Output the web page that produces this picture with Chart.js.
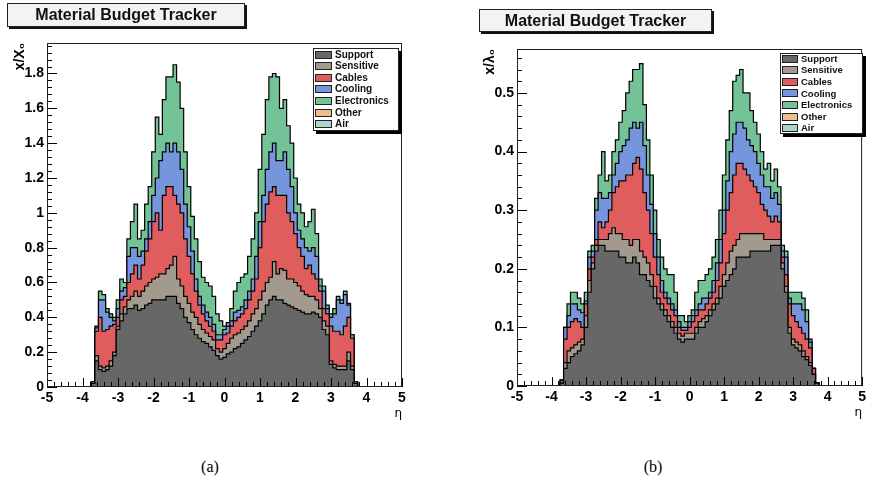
<!DOCTYPE html>
<html><head><meta charset="utf-8">
<script src="https://cdn.jsdelivr.net/npm/chart.js@4/dist/chart.umd.min.js"></script>
<style>
body{margin:0;background:#fff;width:869px;height:485px;overflow:hidden;position:relative;font-family:"Liberation Sans",Arial,sans-serif}
canvas{position:absolute;top:0}
.title{position:absolute;background:#f3f3f3;border:1px solid #222;box-shadow:2px 2px 0 #111;font-weight:bold;font-size:16px;text-align:center;box-sizing:border-box;color:#111}
.legend{position:absolute;background:#fff;border:1px solid #222;box-shadow:3px 3px 0 #000;box-sizing:border-box}
.legend .sw{position:absolute;box-sizing:border-box;border:1px solid #222}
.legend .tx{position:absolute;font-weight:bold;color:#111;white-space:nowrap}
.cap{position:absolute;font-family:"Liberation Serif",serif;font-size:16px;width:40px;text-align:center}
</style></head>
<body>
<canvas id="ca" width="435" height="430" style="left:0"></canvas>
<canvas id="cb" width="429" height="430" style="left:440px"></canvas>
<div class="title" style="left:7px;top:3px;width:238px;height:24px;line-height:22px">Material Budget Tracker</div>
<div class="title" style="left:479px;top:9px;width:233px;height:23px;line-height:21px">Material Budget Tracker</div>
<div class="legend" id="lga" style="left:313px;top:48px;width:86px;height:83px"></div>
<div class="legend" id="lgb" style="left:780px;top:53px;width:83px;height:81px"></div>
<div class="cap" style="left:190px;top:458px">(a)</div>
<div class="cap" style="left:633px;top:458px">(b)</div>
<script>
// ---- data ----
const etaCenters = [-3.7,-3.6,-3.5,-3.4,-3.3,-3.2,-3.1,-3.0,-2.9,-2.8,-2.7,-2.6,-2.5,-2.4,-2.3,-2.2,-2.1,-2.0,-1.9,-1.8,-1.7,-1.6,-1.5,-1.4,-1.3,-1.2,-1.1,-1.0,-0.9,-0.8,-0.7,-0.6,-0.5,-0.4,-0.3,-0.2,-0.1,0.0,0.1,0.2,0.3,0.4,0.5,0.6,0.7,0.8,0.9,1.0,1.1,1.2,1.3,1.4,1.5,1.6,1.7,1.8,1.9,2.0,2.1,2.2,2.3,2.4,2.5,2.6,2.7,2.8,2.9,3.0,3.1,3.2,3.3,3.4,3.5,3.6,3.7];
const etaRange = [-5, -3.8, 3.8, 5];

const names = ['Support','Sensitive','Cables','Cooling','Electronics','Other','Air'];
const colors = ['#676767','#a39a8e','#e05d5d','#7595dc','#73c397','#efbd85','#a9d6c6'];

// panel (a): x/X0
const supportA = [0.02,0.15,0.10,0.09,0.10,0.12,0.18,0.33,0.38,0.42,0.45,0.45,0.47,0.44,0.45,0.47,0.48,0.50,0.50,0.50,0.50,0.52,0.52,0.52,0.48,0.45,0.40,0.37,0.33,0.30,0.28,0.26,0.25,0.23,0.21,0.18,0.16,0.17,0.19,0.20,0.22,0.23,0.25,0.27,0.29,0.32,0.35,0.38,0.42,0.47,0.50,0.52,0.50,0.50,0.48,0.47,0.46,0.45,0.44,0.43,0.42,0.42,0.43,0.42,0.40,0.33,0.30,0.13,0.11,0.10,0.10,0.10,0.15,0.10,0.02];
const sensitiveA = [0,0.03,0.02,0.02,0.02,0.03,0.02,0.02,0.04,0.04,0.05,0.07,0.08,0.08,0.10,0.11,0.12,0.12,0.13,0.15,0.15,0.16,0.18,0.23,0.14,0.13,0.12,0.11,0.10,0.10,0.08,0.07,0.06,0.06,0.06,0.04,0.04,0.05,0.06,0.08,0.08,0.08,0.08,0.08,0.09,0.10,0.10,0.12,0.13,0.13,0.13,0.20,0.15,0.18,0.19,0.15,0.16,0.15,0.14,0.12,0.11,0.10,0.09,0.08,0.05,0.05,0.05,0.02,0.02,0.02,0.02,0.02,0.05,0.02,0];
const cablesA = [0.01,0.14,0.28,0.21,0.21,0.20,0.16,0.05,0.08,0.06,0.10,0.13,0.15,0.10,0.15,0.20,0.25,0.33,0.37,0.25,0.45,0.47,0.45,0.35,0.43,0.42,0.33,0.27,0.22,0.15,0.11,0.09,0.07,0.06,0.05,0.05,0.07,0.08,0.06,0.07,0.08,0.09,0.09,0.10,0.12,0.13,0.17,0.30,0.40,0.45,0.49,0.43,0.45,0.42,0.43,0.38,0.33,0.28,0.22,0.20,0.15,0.18,0.13,0.12,0.10,0.07,0.07,0.20,0.19,0.20,0.18,0.23,0.20,0.16,0.01];
const coolingA = [0,0.02,0.10,0.18,0.10,0.05,0.02,0.05,0.05,0.05,0.15,0.15,0.10,0.13,0.08,0.07,0.10,0.15,0.20,0.40,0.25,0.25,0.20,0.30,0.30,0.25,0.20,0.17,0.13,0.07,0.05,0.05,0.05,0.05,0.04,0.03,0.03,0.03,0.04,0.03,0.05,0.04,0.04,0.05,0.05,0.07,0.13,0.15,0.15,0.20,0.23,0.25,0.20,0.20,0.25,0.25,0.20,0.12,0.10,0.10,0.12,0.08,0.15,0.13,0.03,0.10,0.03,0.05,0.10,0.18,0.18,0.18,0.07,0.02,0];
const electronicsA = [0,0.01,0.05,0.03,0.02,0.02,0.02,0.05,0.07,0.03,0.10,0.15,0.25,0.10,0.12,0.20,0.20,0.25,0.35,0.15,0.30,0.38,0.43,0.45,0.40,0.35,0.30,0.23,0.20,0.23,0.20,0.16,0.17,0.18,0.16,0.12,0.08,0.02,0.02,0.07,0.12,0.16,0.17,0.15,0.20,0.23,0.25,0.30,0.35,0.40,0.43,0.40,0.48,0.30,0.30,0.25,0.25,0.20,0.15,0.15,0.12,0.17,0.22,0.13,0.04,0.03,0.02,0.02,0.03,0.02,0.02,0.02,0.01,0,0];

// panel (b): x/lambda0
const supportB = [0.005,0.03,0.04,0.05,0.055,0.06,0.07,0.10,0.16,0.20,0.23,0.24,0.24,0.23,0.23,0.23,0.23,0.22,0.22,0.21,0.21,0.22,0.21,0.19,0.19,0.18,0.17,0.15,0.14,0.13,0.12,0.11,0.10,0.09,0.08,0.075,0.08,0.08,0.08,0.09,0.10,0.10,0.11,0.12,0.13,0.14,0.15,0.17,0.18,0.19,0.20,0.22,0.22,0.22,0.22,0.23,0.23,0.23,0.23,0.23,0.23,0.24,0.24,0.24,0.20,0.16,0.09,0.07,0.065,0.06,0.05,0.045,0.035,0.02,0.005];
const sensitiveB = [0,0.01,0.02,0.015,0.015,0.015,0.01,0.02,0.02,0.01,0.01,0.01,0.01,0.02,0.03,0.04,0.03,0.04,0.03,0.04,0.03,0.03,0.04,0.04,0.03,0.03,0.02,0.02,0.01,0.01,0.01,0.01,0.01,0.01,0.01,0.01,0.01,0.01,0.01,0.01,0.01,0.015,0.01,0.01,0.01,0.01,0.02,0.02,0.03,0.04,0.04,0.03,0.04,0.04,0.04,0.03,0.03,0.03,0.03,0.02,0.02,0.01,0.01,0.01,0.01,0.01,0.01,0.01,0.01,0.01,0.01,0.005,0.005,0,0];
const cablesB = [0.005,0.04,0.04,0.045,0.045,0.035,0.02,0.02,0.02,0.01,0.01,0.03,0.02,0.03,0.04,0.06,0.08,0.09,0.10,0.11,0.12,0.13,0.14,0.14,0.11,0.09,0.07,0.05,0.04,0.02,0.02,0.02,0.02,0.02,0.01,0.01,0.005,0.01,0.02,0.02,0.02,0.015,0.02,0.02,0.02,0.03,0.04,0.07,0.09,0.10,0.12,0.13,0.12,0.11,0.10,0.09,0.08,0.07,0.05,0.05,0.04,0.03,0.04,0.03,0.01,0.02,0.04,0.04,0.035,0.03,0.03,0.03,0.025,0.01,0];
const coolingB = [0,0.02,0.02,0.03,0.025,0.02,0.025,0.005,0.02,0.01,0.05,0.05,0.05,0.04,0.03,0.03,0.04,0.05,0.06,0.06,0.08,0.07,0.05,0.08,0.08,0.06,0.05,0.04,0.03,0.02,0.01,0.01,0.01,0.01,0.01,0.005,0.005,0.01,0.01,0.01,0.01,0.02,0.01,0.01,0.02,0.03,0.04,0.04,0.05,0.07,0.07,0.07,0.07,0.07,0.06,0.06,0.06,0.05,0.05,0.04,0.05,0.04,0.04,0.03,0.01,0.03,0.01,0.02,0.03,0.04,0.04,0.03,0.01,0,0];
const electronicsB = [0,0,0.02,0.02,0.02,0.02,0.015,0.015,0.01,0.01,0.02,0.03,0.08,0.03,0.03,0.04,0.04,0.05,0.06,0.08,0.08,0.09,0.10,0.10,0.07,0.06,0.05,0.04,0.03,0.04,0.04,0.04,0.05,0.03,0.01,0.02,0.01,0.01,0.01,0.03,0.04,0.03,0.04,0.04,0.04,0.04,0.05,0.06,0.07,0.07,0.09,0.08,0.09,0.06,0.08,0.06,0.05,0.05,0.04,0.03,0.04,0.03,0.04,0.03,0.01,0.01,0.01,0.02,0.02,0.02,0.02,0.02,0.005,0,0];

const xTickLabels = [-5,-4,-3,-2,-1,0,1,2,3,4,5];
const yTicksA = [0,0.2,0.4,0.6,0.8,1.0,1.2,1.4,1.6,1.8];
const yTicksB = [0,0.1,0.2,0.3,0.4,0.5];

// ---- rendering ----
const xs = [etaRange[0], etaRange[1], ...etaCenters, etaRange[2], etaRange[3]];
const pad = arr => [0, 0, ...arr, 0, 0];
const tickFont = {family:'"Liberation Sans", Arial, sans-serif', weight:'bold', size:14};

const rootTicks = {
  id:'rootTicks',
  afterDraw(chart, args, o){
    const {ctx, chartArea:a, scales:{x, y}} = chart;
    ctx.save();
    ctx.strokeStyle = '#000'; ctx.lineWidth = 1;
    ctx.beginPath();
    const nx = Math.round((o.xMax - o.xMin) / o.xMinor);
    for (let i = 0; i <= nx; i++) {
      const v = o.xMin + i * o.xMinor;
      const px = Math.round(x.getPixelForValue(v)) + 0.5;
      const len = (i % o.xSub === 0) ? 9 : 5;
      ctx.moveTo(px, a.bottom); ctx.lineTo(px, a.bottom - len);
    }
    const ny = Math.floor(o.yMax / o.yMinor + 1e-6);
    for (let i = 0; i <= ny; i++) {
      const v = i * o.yMinor;
      const py = Math.round(y.getPixelForValue(v)) + 0.5;
      const len = (i % o.ySub === 0) ? 10 : 5;
      ctx.moveTo(a.left, py); ctx.lineTo(a.left + len, py);
    }
    ctx.stroke();
    ctx.strokeStyle = '#222';
    ctx.strokeRect(a.left + 0.5, a.top + 0.5, a.right - a.left - 1, a.bottom - a.top - 1);
    ctx.restore();
  }
};

function makeChart(id, series, cfg){
  const datasets = series.map((vals, i) => ({
    label: names[i],
    data: pad(vals).map((v, j) => ({x: xs[j], y: v})),
    stepped: 'middle',
    fill: i === 0 ? 'origin' : '-1',
    backgroundColor: colors[i],
    borderColor: '#000',
    borderWidth: 1.2,
    pointRadius: 0,
    tension: 0
  }));
  return new Chart(document.getElementById(id), {
    type: 'line',
    data: {datasets},
    options: {
      responsive: false, animation: false, devicePixelRatio: 1,
      layout: {padding: cfg.padding},
      plugins: {legend: {display: false}, tooltip: {enabled: false}, filler: {propagate: false},
        rootTicks: {xMin: -5, xMax: 5, xMinor: 0.2, xSub: 5, yMax: cfg.yMax, yMinor: cfg.yMinor, ySub: 5}},
      scales: {
        x: {type: 'linear', min: -5, max: 5,
          afterBuildTicks: s => { s.ticks = xTickLabels.map(v => ({value: v})); },
          afterFit: s => { s.height = 40; },
          grid: {display: false, drawTicks: false}, border: {display: false},
          ticks: {font: tickFont, color: '#000', padding: 3, autoSkip: false, maxRotation: 0,
            callback: v => String(v)},
          title: {display: true, text: 'η', align: 'end', color: '#000',
            font: {family: '"DejaVu Sans", sans-serif', size: 12}, padding: {top: 0, bottom: 6}}
        },
        y: {type: 'linear', stacked: true, min: 0, max: cfg.yMax,
          afterBuildTicks: s => { s.ticks = cfg.yTicks.map(v => ({value: v})); },
          afterFit: s => { s.width = cfg.yWidth; },
          grid: {display: false, drawTicks: false}, border: {display: false},
          ticks: {font: tickFont, color: '#000', padding: 3, autoSkip: false,
            callback: v => String(+Number(v).toFixed(2))},
          title: {display: true, text: cfg.yTitle, align: 'end', color: '#000',
            font: {family: '"Liberation Sans", Arial, sans-serif', weight: 'bold', size: 14},
            padding: {top: cfg.yTitlePad, bottom: 0}}
        }
      }
    },
    plugins: [rootTicks]
  });
}

makeChart('ca', [supportA, sensitiveA, cablesA, coolingA, electronicsA],
  {padding: {top: 43, right: 33, bottom: 3, left: 0}, yMax: 1.975, yMinor: 0.04,
   yTicks: yTicksA, yWidth: 47, yTitle: 'x/X₀', yTitlePad: 12});
makeChart('cb', [supportB, sensitiveB, cablesB, coolingB, electronicsB],
  {padding: {top: 49, right: 1, bottom: 4, left: 0}, yMax: 0.575, yMinor: 0.02,
   yTicks: yTicksB, yWidth: 77, yTitle: 'x/λ₀', yTitlePad: 42});

function buildLegend(id, sw, txLeft, fontSize, rowStart, rowStep){
  const el = document.getElementById(id);
  names.forEach((n, i) => {
    const cy = rowStart + i * rowStep;
    const s = document.createElement('div');
    s.className = 'sw';
    s.style.cssText = `left:1px;top:${cy - 4}px;width:${sw}px;height:8px;background:${colors[i]}`;
    el.appendChild(s);
    const t = document.createElement('div');
    t.className = 'tx';
    t.style.cssText = `left:${txLeft}px;top:${cy - fontSize * 0.6}px;font-size:${fontSize}px;line-height:${fontSize * 1.2}px`;
    t.textContent = n;
    el.appendChild(t);
  });
}
buildLegend('lga', 17, 21, 10, 5.5, 11.6);
buildLegend('lgb', 16, 20, 9.5, 4.5, 11.6);
</script>
</body></html>
